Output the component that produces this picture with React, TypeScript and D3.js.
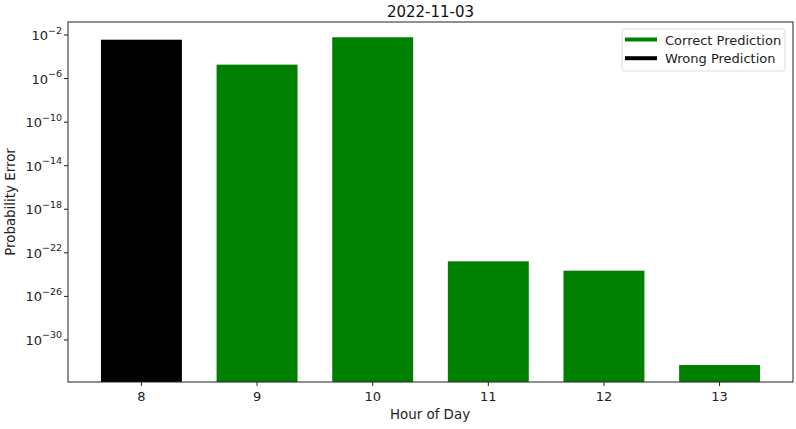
import React from "react";
import * as d3 from "d3";

const hours = [8, 9, 10, 11, 12, 13];
const probErrors = [3.7e-3, 1.9e-5, 6.2e-3, 1.66e-23, 2.3e-24, 5e-33];
const correct = [false, true, true, true, true, true];
const yTickExps = [-2, -6, -10, -14, -18, -22, -26, -30];
const title = "2022-11-03";
const xLabel = "Hour of Day";
const yLabel = "Probability Error";
const legendItems = [
  { label: "Correct Prediction", color: "green" },
  { label: "Wrong Prediction", color: "black" },
];

const W = 796;
const H = 429;
const M = { left: 68, right: 3, top: 22, bottom: 47 };
const FONT = "DejaVu Sans, sans-serif";

export default function App() {
  const x = d3
    .scaleLinear()
    .domain([7.365, 13.635])
    .range([M.left, W - M.right]);
  const y = d3
    .scaleLog()
    .domain([Math.pow(10, -33.86), Math.pow(10, -0.806)])
    .range([H - M.bottom, M.top]);
  const bw = x(8.35) - x(7.65);
  const y0 = H - M.bottom;
  const axisColor = "#222";

  return (
    <svg
      width={W}
      height={H}
      style={{ position: "absolute", left: 0, top: 0, background: "#fff" }}
      fontFamily={FONT}
    >
      <text x={(M.left + W - M.right) / 2} y={17} textAnchor="middle" fontSize={15} fill="#111">
        {title}
      </text>
      {hours.map((h, i) => (
        <rect
          key={h}
          x={x(h) - bw / 2}
          y={y(probErrors[i])}
          width={bw}
          height={y0 - y(probErrors[i])}
          fill={correct[i] ? "green" : "black"}
        />
      ))}
      <rect
        x={M.left}
        y={M.top}
        width={W - M.right - M.left}
        height={H - M.bottom - M.top}
        fill="none"
        stroke={axisColor}
        strokeWidth={1}
      />
      {hours.map((h) => (
        <g key={"xt" + h}>
          <line x1={x(h)} x2={x(h)} y1={y0} y2={y0 + 4} stroke={axisColor} />
          <text x={x(h)} y={y0 + 19} textAnchor="middle" fontSize={13} fill="#222">
            {h}
          </text>
        </g>
      ))}
      {yTickExps.map((e) => {
        const yy = y(Math.pow(10, e));
        return (
          <g key={"yt" + e}>
            <line x1={M.left - 4} x2={M.left} y1={yy} y2={yy} stroke={axisColor} />
            <text x={M.left - 6} y={yy + 5} textAnchor="end" fontSize={13} fill="#222">
              10
              <tspan fontSize={9.5} dy={-6.5}>
                {"\u2212" + Math.abs(e)}
              </tspan>
            </text>
          </g>
        );
      })}
      <text x={430} y={419} textAnchor="middle" fontSize={13.4} fill="#222">
        {xLabel}
      </text>
      <text
        transform={`translate(15, ${(M.top + H - M.bottom) / 2}) rotate(-90)`}
        textAnchor="middle"
        fontSize={13.4}
        fill="#222"
      >
        {yLabel}
      </text>
      <g>
        <rect x={622} y={29} width={163} height={42} rx={2} fill="#fff" fillOpacity={0.8} stroke="#ddd" />
        {legendItems.map((it, i) => (
          <g key={it.label}>
            <line
              x1={625}
              x2={657}
              y1={39.5 + i * 18.7}
              y2={39.5 + i * 18.7}
              stroke={it.color}
              strokeWidth={4}
            />
            <text x={665} y={44.5 + i * 18.7} fontSize={13} fill="#222">
              {it.label}
            </text>
          </g>
        ))}
      </g>
    </svg>
  );
}
